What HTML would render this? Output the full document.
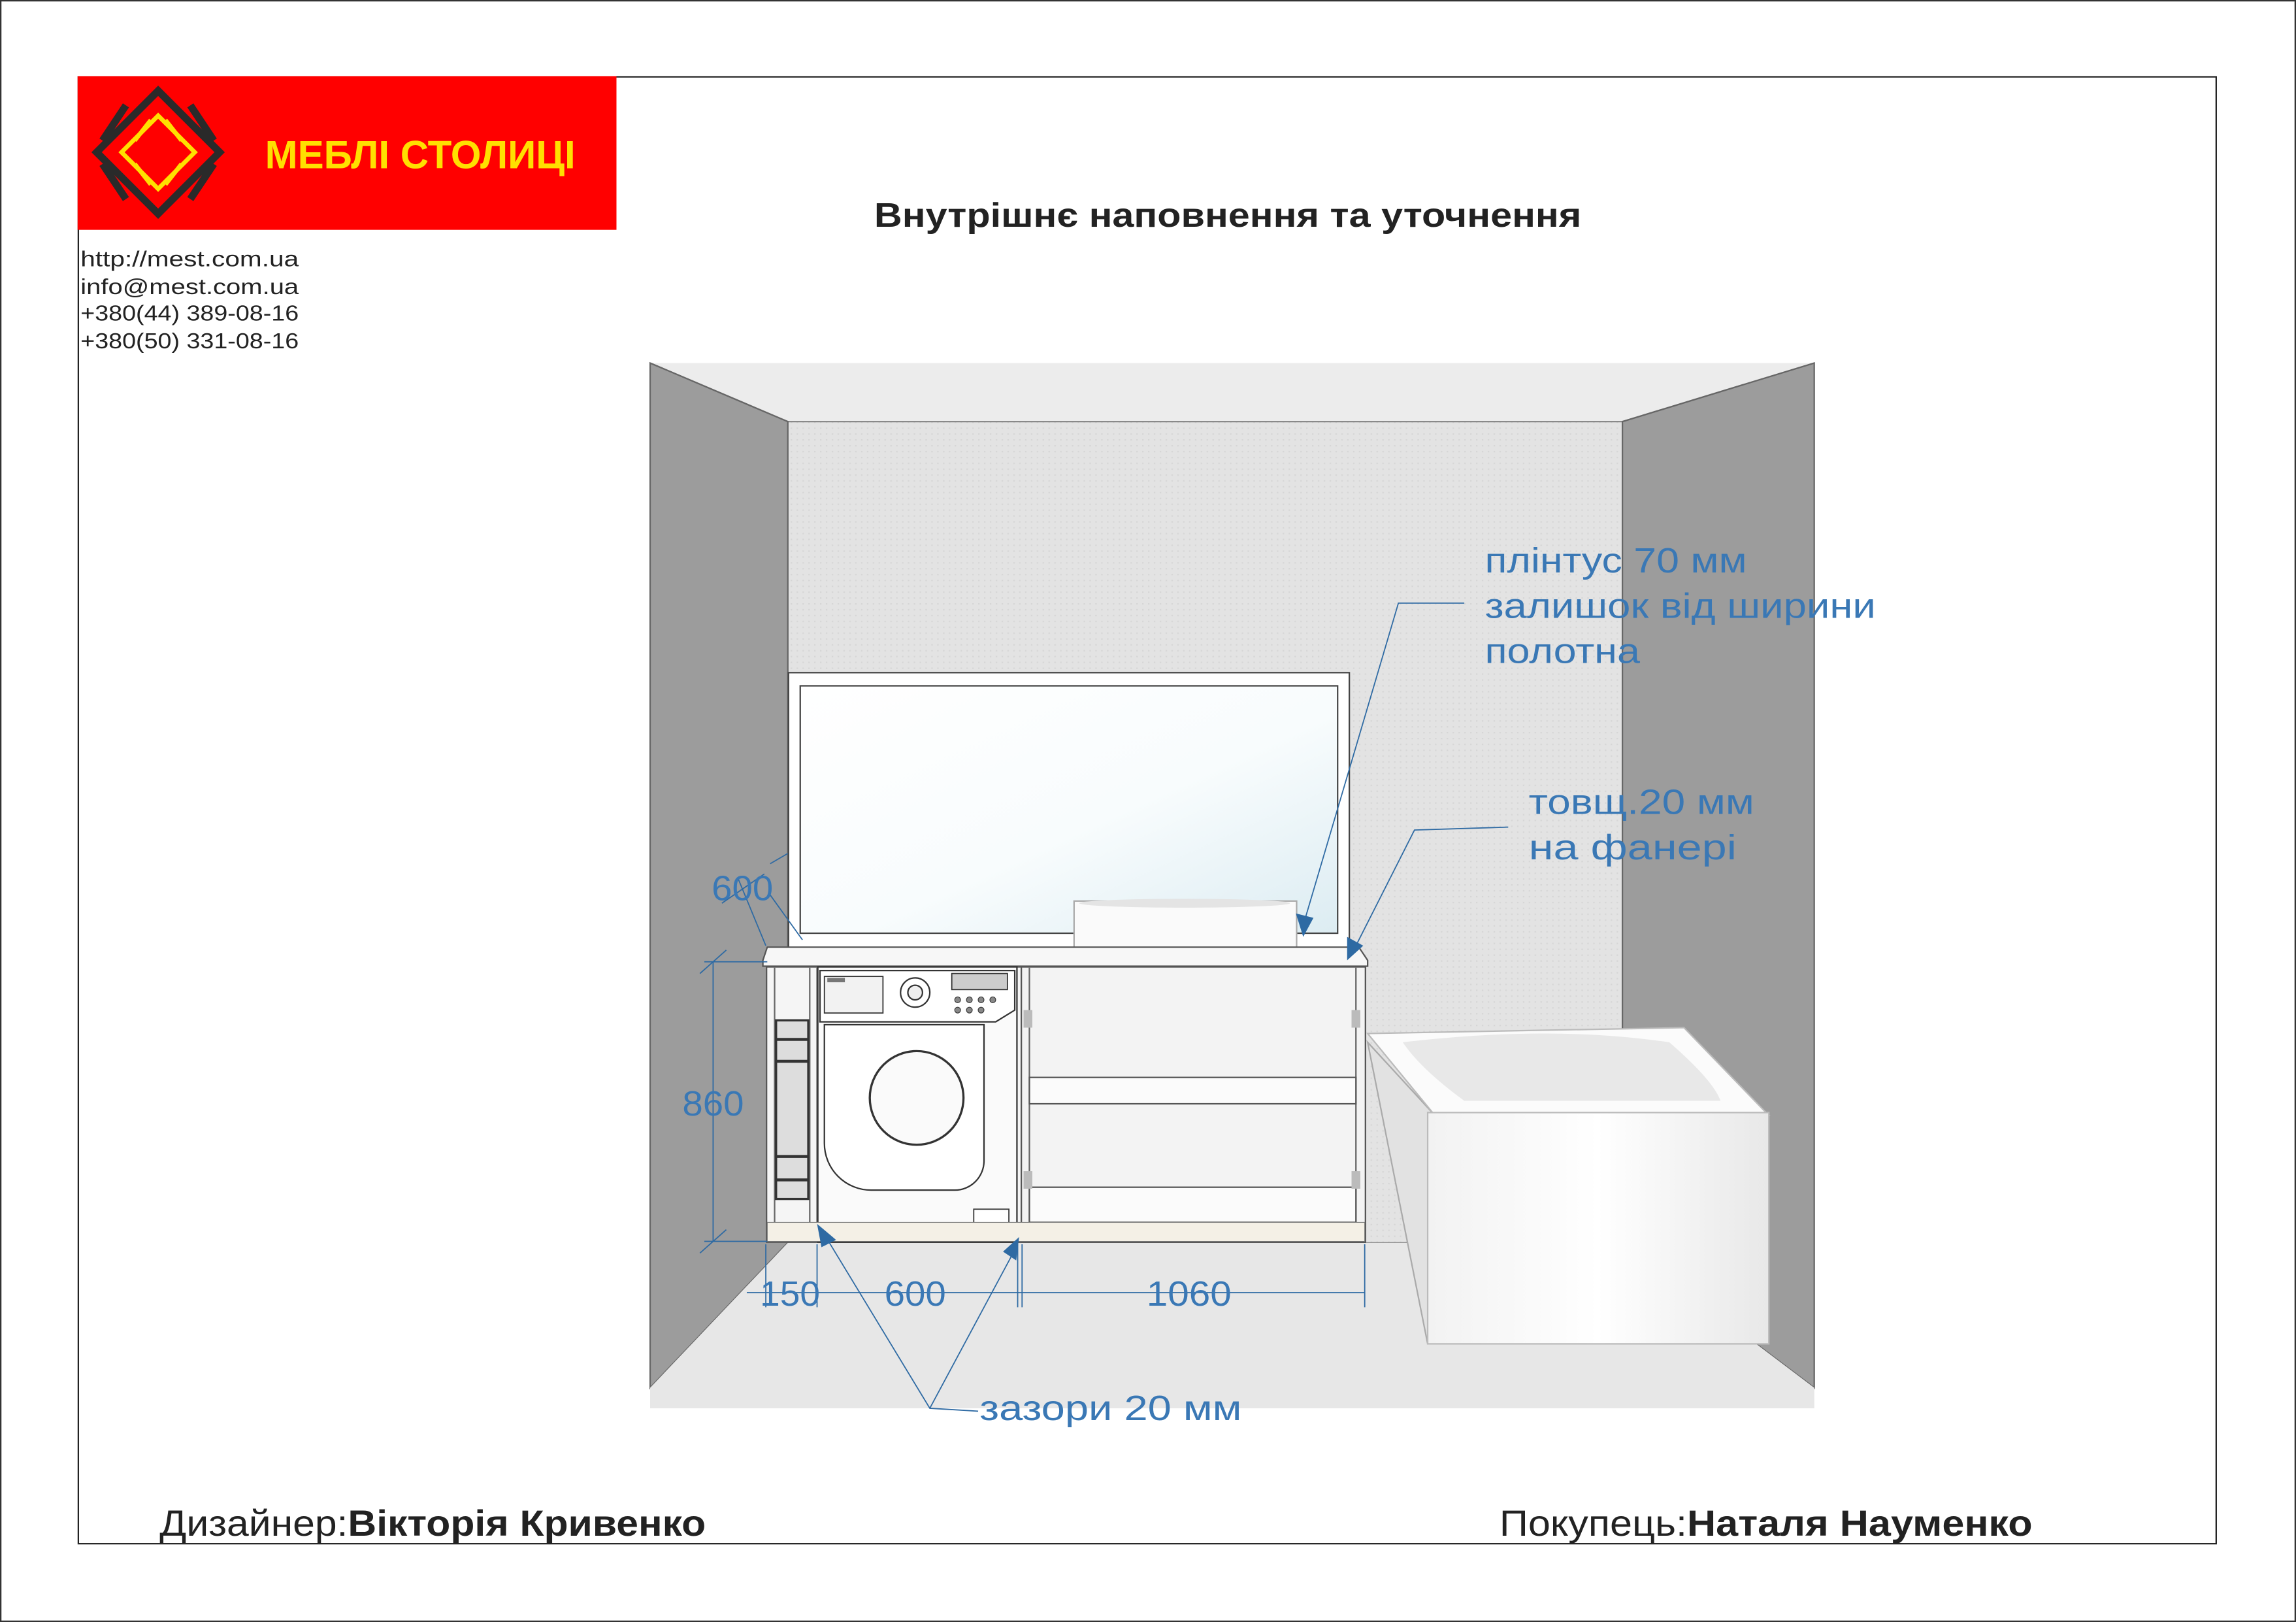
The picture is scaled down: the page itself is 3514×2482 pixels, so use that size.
<!DOCTYPE html>
<html><head><meta charset="utf-8"><style>
html,body{margin:0;padding:0;background:#fff;}
svg{display:block;}
text{font-family:"Liberation Sans",sans-serif;}
</style></head><body>
<svg width="3514" height="2482" viewBox="0 0 1568 1108" preserveAspectRatio="none" xmlns="http://www.w3.org/2000/svg">
<defs>
<linearGradient id="glass" x1="0" y1="0" x2="1" y2="1">
<stop offset="0" stop-color="#ffffff"/><stop offset="0.55" stop-color="#f8fcfd"/><stop offset="1" stop-color="#dcecf2"/>
</linearGradient>
<linearGradient id="tub" x1="0" y1="0" x2="1" y2="0">
<stop offset="0" stop-color="#f2f2f2"/><stop offset="0.5" stop-color="#ffffff"/><stop offset="1" stop-color="#e8e8e8"/>
</linearGradient>
<pattern id="dots" width="4" height="4" patternUnits="userSpaceOnUse">
<rect width="4" height="4" fill="#e3e3e3"/><rect width="1" height="1" fill="#d6d6d6"/>
</pattern>
</defs>
<rect x="0.5" y="0.5" width="1567" height="1107" fill="#fff" stroke="#333" stroke-width="1"/>
<rect x="53.5" y="52.5" width="1460" height="1002" fill="none" stroke="#222" stroke-width="1"/>
<!-- logo -->
<rect x="53" y="52" width="368" height="105" fill="#ff0000"/>
<polygon points="108,62 150,104 108,146 66,104" fill="none" stroke="#2a2a2a" stroke-width="5"/>
<line x1="86" y1="72" x2="70" y2="96" stroke="#2a2a2a" stroke-width="5"/>
<line x1="130" y1="72" x2="146" y2="96" stroke="#2a2a2a" stroke-width="5"/>
<line x1="86" y1="136" x2="70" y2="112" stroke="#2a2a2a" stroke-width="5"/>
<line x1="130" y1="136" x2="146" y2="112" stroke="#2a2a2a" stroke-width="5"/>
<polygon points="108,79 133,104 108,129 83,104" fill="none" stroke="#ffe000" stroke-width="3"/>
<line x1="113" y1="82" x2="124" y2="96" stroke="#ffe000" stroke-width="3"/>
<line x1="103" y1="82" x2="92" y2="96" stroke="#ffe000" stroke-width="3"/>
<line x1="113" y1="126" x2="124" y2="112" stroke="#ffe000" stroke-width="3"/>
<line x1="103" y1="126" x2="92" y2="112" stroke="#ffe000" stroke-width="3"/>
<text x="181" y="115" font-size="27" font-weight="bold" fill="#ffe000" textLength="212" lengthAdjust="spacingAndGlyphs">МЕБЛІ СТОЛИЦІ</text>
<!-- contacts -->
<g font-size="15" fill="#222">
<text x="55" y="182" textLength="149" lengthAdjust="spacingAndGlyphs">http://mest.com.ua</text>
<text x="55" y="201" textLength="149" lengthAdjust="spacingAndGlyphs">info@mest.com.ua</text>
<text x="55" y="219" textLength="149" lengthAdjust="spacingAndGlyphs">+380(44)   389-08-16</text>
<text x="55" y="238" textLength="149" lengthAdjust="spacingAndGlyphs">+380(50)   331-08-16</text>
</g>
<text x="597" y="155" font-size="23" font-weight="bold" fill="#222" textLength="483" lengthAdjust="spacingAndGlyphs">Внутрішнє наповнення та уточнення</text>
<!-- room -->
<rect x="444" y="248" width="795" height="714" fill="#e6e6e6"/>
<polygon points="444,248 1239,248 1108,288 538,288" fill="#ececec"/>
<line x1="444" y1="248" x2="538" y2="288" stroke="#777" stroke-width="1"/>
<line x1="1239" y1="248" x2="1108" y2="288" stroke="#777" stroke-width="1"/>
<rect x="538" y="288" width="570" height="561" fill="url(#dots)" stroke="#888" stroke-width="1"/>
<polygon points="444,248 538,288 538,849 444,948" fill="#9c9c9c" stroke="#666" stroke-width="1"/>
<polygon points="1239,248 1108,288 1108,849 1239,948" fill="#9c9c9c" stroke="#666" stroke-width="1"/>
<polygon points="538,849 1108,849 1239,948 1239,962 444,962 444,948" fill="#e7e7e7"/>
<!-- mirror -->
<rect x="538.5" y="459.5" width="383" height="188" fill="#fff" stroke="#444" stroke-width="1"/>
<rect x="546.5" y="468.5" width="367" height="169" fill="url(#glass)" stroke="#444" stroke-width="1"/>
<!-- sink -->
<rect x="733.5" y="615.5" width="152" height="37" fill="#fafafa" stroke="#aaa" stroke-width="1"/>
<ellipse cx="809" cy="617" rx="72" ry="3" fill="#e4e4e4"/>
<!-- countertop -->
<polygon points="524,647 928,647 934,656 934,660 521,660 521,656" fill="#f7f7f7" stroke="#555" stroke-width="1"/>
<!-- cabinet -->
<rect x="523.5" y="660.5" width="409" height="188" fill="#f5f5f5" stroke="#555" stroke-width="1"/>
<line x1="529" y1="661" x2="529" y2="848" stroke="#666"/>
<line x1="553" y1="661" x2="553" y2="848" stroke="#666"/>
<line x1="558" y1="661" x2="558" y2="848" stroke="#666"/>
<!-- basket -->
<rect x="530" y="697" width="22" height="122" fill="#ddd" stroke="#333" stroke-width="1.5"/>
<line x1="530" y1="710" x2="552" y2="710" stroke="#333" stroke-width="2"/>
<line x1="530" y1="725" x2="552" y2="725" stroke="#333" stroke-width="2"/>
<line x1="530" y1="790" x2="552" y2="790" stroke="#333" stroke-width="2"/>
<line x1="530" y1="806" x2="552" y2="806" stroke="#333" stroke-width="2"/>
<!-- washing machine -->
<rect x="558.5" y="660.5" width="136" height="188" fill="#fafafa" stroke="#333" stroke-width="1"/>
<polygon points="560,663 693,663 693,690 680,698 560,698" fill="#fff" stroke="#333" stroke-width="1"/>
<rect x="563" y="667" width="40" height="25" fill="#f2f2f2" stroke="#333" stroke-width="0.8"/>
<rect x="565" y="668" width="12" height="3" fill="#777"/>
<circle cx="625" cy="678" r="10" fill="#fff" stroke="#333"/>
<circle cx="625" cy="678" r="5" fill="#eee" stroke="#333"/>
<rect x="650" y="665" width="38" height="11" fill="#ccc" stroke="#333" stroke-width="0.8"/>
<g fill="#888" stroke="#333" stroke-width="0.5">
<circle cx="654" cy="683" r="2"/><circle cx="662" cy="683" r="2"/><circle cx="670" cy="683" r="2"/><circle cx="678" cy="683" r="2"/>
<circle cx="654" cy="690" r="2"/><circle cx="662" cy="690" r="2"/><circle cx="670" cy="690" r="2"/>
</g>
<path d="M563,700 L672,700 L672,793 A20,20 0 0 1 652,813 L595,813 A32,32 0 0 1 563,781 Z" fill="#fff" stroke="#333"/>
<circle cx="626" cy="750" r="32" fill="#fafafa" stroke="#333" stroke-width="1.5"/>
<rect x="665" y="826" width="24" height="14" fill="#fff" stroke="#333" stroke-width="0.8"/>
<!-- right section -->
<rect x="697.5" y="660.5" width="235" height="188" fill="#f3f3f3" stroke="#555"/>
<line x1="703" y1="661" x2="703" y2="848" stroke="#666"/>
<line x1="926" y1="661" x2="926" y2="848" stroke="#666"/>
<rect x="703" y="736" width="223" height="18" fill="#fbfbfb" stroke="#555"/>
<rect x="703" y="811" width="223" height="24" fill="#fbfbfb" stroke="#555"/>
<rect x="524" y="835" width="408" height="13" fill="#f4f0e6" stroke="#777" stroke-width="0.5"/>
<rect x="699" y="690" width="6" height="12" fill="#bbb"/><rect x="699" y="800" width="6" height="12" fill="#bbb"/>
<rect x="923" y="690" width="6" height="12" fill="#bbb"/><rect x="923" y="800" width="6" height="12" fill="#bbb"/>
<!-- bathtub -->
<polygon points="934,712 980,762 975,918 934,712" fill="#e2e2e2" stroke="#aaa"/>
<polygon points="934,706 1150,702 1208,762 980,762" fill="#fbfbfb" stroke="#bbb"/>
<path d="M958,712 Q1060,700 1140,712 Q1170,738 1175,752 L1000,752 Q970,730 958,712 Z" fill="#e8e8e8"/>
<rect x="975" y="760" width="233" height="158" fill="url(#tub)" stroke="#bbb"/>
<!-- annotations -->
<g stroke="#2e6aa3" stroke-width="0.8" fill="none">
<polyline points="1000,412 955,412 890,632"/>
<polyline points="1030,565 966,567 925,648"/>
<line x1="487" y1="657" x2="487" y2="848"/>
<line x1="481" y1="657" x2="524" y2="657"/>
<line x1="481" y1="848" x2="524" y2="848"/>
<line x1="478" y1="665" x2="496" y2="649"/>
<line x1="478" y1="856" x2="496" y2="840"/>
<line x1="504" y1="600" x2="523" y2="646"/>
<line x1="493" y1="617" x2="522" y2="597"/>
<line x1="526" y1="590" x2="538" y2="583"/>
<line x1="525" y1="610" x2="548" y2="642"/>
<line x1="510" y1="883" x2="932" y2="883"/>
<line x1="523" y1="850" x2="523" y2="893"/>
<line x1="558" y1="850" x2="558" y2="893"/>
<line x1="695" y1="850" x2="695" y2="893"/>
<line x1="698" y1="850" x2="698" y2="893"/>
<line x1="932" y1="850" x2="932" y2="893"/>
<polyline points="668,964 635,962 561,840"/>
<line x1="635" y1="962" x2="694" y2="852"/>
</g>
<g fill="#2e6aa3">
<polygon points="890,640 885,624 897,627"/>
<polygon points="920,656 920,640 931,646"/>
<polygon points="558,836 571,847 561,852"/>
<polygon points="696,845 694,861 685,855"/>
</g>
<g fill="#3a78b5" font-size="24" lengthAdjust="spacingAndGlyphs">
<text x="1014" y="391" textLength="179" lengthAdjust="spacingAndGlyphs">плінтус 70 мм</text>
<text x="1014" y="422" textLength="267" lengthAdjust="spacingAndGlyphs">залишок від ширини</text>
<text x="1014" y="453" textLength="106" lengthAdjust="spacingAndGlyphs">полотна</text>
<text x="1044" y="556" textLength="154" lengthAdjust="spacingAndGlyphs">товщ.20 мм</text>
<text x="1044" y="587" textLength="142" lengthAdjust="spacingAndGlyphs">на фанері</text>
<text x="486" y="615" textLength="42" lengthAdjust="spacingAndGlyphs">600</text>
<text x="466" y="762" textLength="42" lengthAdjust="spacingAndGlyphs">860</text>
<text x="519" y="892" textLength="41" lengthAdjust="spacingAndGlyphs">150</text>
<text x="604" y="892" textLength="42" lengthAdjust="spacingAndGlyphs">600</text>
<text x="783" y="892" textLength="58" lengthAdjust="spacingAndGlyphs">1060</text>
<text x="669" y="970" textLength="179" lengthAdjust="spacingAndGlyphs">зазори 20 мм</text>
</g>
<!-- footer -->
<text x="109" y="1049" font-size="25" fill="#222" textLength="373" lengthAdjust="spacingAndGlyphs">Дизайнер:<tspan font-weight="bold">Вікторія Кривенко</tspan></text>
<text x="1024" y="1049" font-size="25" fill="#222" textLength="364" lengthAdjust="spacingAndGlyphs">Покупець:<tspan font-weight="bold">Наталя Науменко</tspan></text>
</svg>
</body></html>
